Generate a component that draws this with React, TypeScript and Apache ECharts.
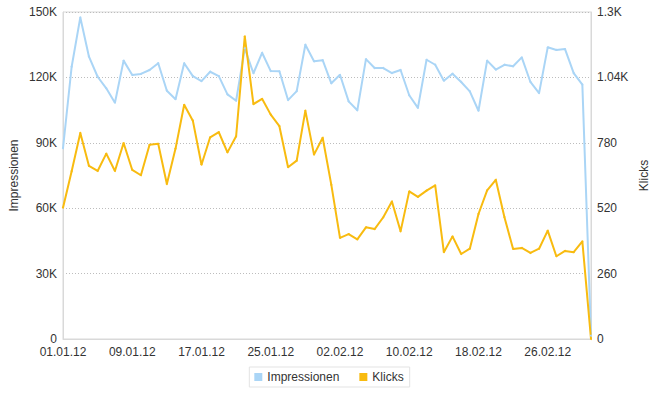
import React, { useEffect, useRef } from "react";
import * as echarts from "echarts";

const categories: string[] = [
  "01.01.12", "02.01.12", "03.01.12", "04.01.12", "05.01.12", "06.01.12", "07.01.12", "08.01.12",
  "09.01.12", "10.01.12", "11.01.12", "12.01.12", "13.01.12", "14.01.12", "15.01.12", "16.01.12",
  "17.01.12", "18.01.12", "19.01.12", "20.01.12", "21.01.12", "22.01.12", "23.01.12", "24.01.12",
  "25.01.12", "26.01.12", "27.01.12", "28.01.12", "29.01.12", "30.01.12", "31.01.12", "01.02.12",
  "02.02.12", "03.02.12", "04.02.12", "05.02.12", "06.02.12", "07.02.12", "08.02.12", "09.02.12",
  "10.02.12", "11.02.12", "12.02.12", "13.02.12", "14.02.12", "15.02.12", "16.02.12", "17.02.12",
  "18.02.12", "19.02.12", "20.02.12", "21.02.12", "22.02.12", "23.02.12", "24.02.12", "25.02.12",
  "26.02.12", "27.02.12", "28.02.12", "29.02.12", "01.03.12", "02.03.12",
];

const impressionen: number[] = [
  87500, 124900, 147500, 129500, 120300, 115000, 108400, 127700,
  121100, 121600, 123400, 126500, 113900, 110000, 126500, 120600,
  118300, 122600, 120600, 112200, 109300, 133300, 121900, 131300,
  122900, 122800, 109600, 113700, 135000, 127400, 127900, 117300,
  121200, 109000, 104900, 128400, 124300, 124300, 122000, 123400,
  111800, 106000, 128100, 125800, 118500, 121700, 117900, 113600,
  104700, 127700, 123600, 125800, 125100, 129200, 117900, 112800,
  133800, 132600, 133000, 122000, 116700, 1500,
];

const klicks: number[] = [
  522, 667, 819, 688, 668, 737, 668, 779,
  672, 651, 772, 776, 616, 757, 931, 868,
  693, 802, 822, 742, 806, 1203, 934, 955,
  892, 846, 683, 709, 908, 733, 800, 613,
  402, 417, 396, 444, 437, 484, 547, 428,
  587, 565, 590, 611, 345, 408, 338, 359,
  497, 591, 633, 484, 358, 362, 342, 359,
  431, 329, 350, 345, 388, 0,
];

const leftTicks = { min: 0, max: 150000, interval: 30000 };
const rightTicks = { min: 0, max: 1300, interval: 260 };

const FONT = "'Liberation Sans', Arial, sans-serif";
const BLUE = "#aad5f6";
const YELLOW = "#f8bb10";

export default function App() {
  const ref = useRef<HTMLDivElement>(null);
  useEffect(() => {
    if (!ref.current) return;
    const chart = echarts.init(ref.current, undefined, { renderer: "svg" });
    const fmtK = (v: number) => (v === 0 ? "0" : v >= 1000 ? `${+(v / 1000).toFixed(2)}K` : `${v}`);
    chart.setOption({
      animation: false,
      textStyle: { fontFamily: FONT },
      grid: { left: 61, right: 62, top: 12, bottom: 55, show: true, borderColor: "#d9d9d9", borderWidth: 1 },
      legend: {
        data: ["Impressionen", "Klicks"],
        bottom: 7,
        left: "center",
        icon: "rect",
        itemWidth: 8,
        itemHeight: 8,
        itemGap: 20,
        borderColor: "#e3e3e3",
        borderWidth: 1,
        padding: [4, 6, 4, 5],
        textStyle: { fontFamily: FONT, fontSize: 12, color: "#333" },
      },
      xAxis: {
        type: "category",
        data: categories,
        boundaryGap: false,
        axisLine: { show: true, lineStyle: { color: "#d9d9d9" } },
        axisTick: { show: false },
        axisLabel: { interval: 7, color: "#333", fontSize: 12, fontFamily: FONT, margin: 7 },
        splitLine: { show: false },
      },
      yAxis: [
        {
          type: "value",
          ...leftTicks,
          name: "Impressionen",
          nameLocation: "middle",
          nameRotate: 90,
          nameGap: 43,
          nameMoveOverlap: false,
          nameTextStyle: { color: "#333", fontSize: 12, fontFamily: FONT },
          axisLine: { show: true, lineStyle: { color: "#d9d9d9" } },
          axisTick: { show: false },
          axisLabel: { color: "#333", fontSize: 12, fontFamily: FONT, margin: 6, formatter: fmtK },
          splitLine: { show: true, lineStyle: { color: "#bdbdbd", type: [1, 2], width: 1 } },
        },
        {
          type: "value",
          ...rightTicks,
          name: "Klicks",
          nameLocation: "middle",
          nameRotate: 90,
          nameGap: 47,
          nameMoveOverlap: false,
          nameTextStyle: { color: "#333", fontSize: 12, fontFamily: FONT },
          axisLine: { show: true, lineStyle: { color: "#d9d9d9" } },
          axisTick: { show: false },
          axisLabel: { color: "#333", fontSize: 12, fontFamily: FONT, margin: 6, formatter: fmtK },
          splitLine: { show: false },
        },
      ],
      series: [
        {
          name: "Impressionen",
          type: "line",
          yAxisIndex: 0,
          data: impressionen,
          color: BLUE,
          symbol: "circle",
          symbolSize: 2,
          showSymbol: true,
          lineStyle: { width: 2, color: BLUE },
          itemStyle: { color: BLUE },
        },
        {
          name: "Klicks",
          type: "line",
          yAxisIndex: 1,
          data: klicks,
          color: YELLOW,
          symbol: "circle",
          symbolSize: 2,
          showSymbol: true,
          lineStyle: { width: 2, color: YELLOW },
          itemStyle: { color: YELLOW },
        },
      ],
    });
    return () => chart.dispose();
  }, []);
  return <div ref={ref} style={{ width: 658, height: 394, position: "absolute", left: 0, top: 0 }} />;
}
